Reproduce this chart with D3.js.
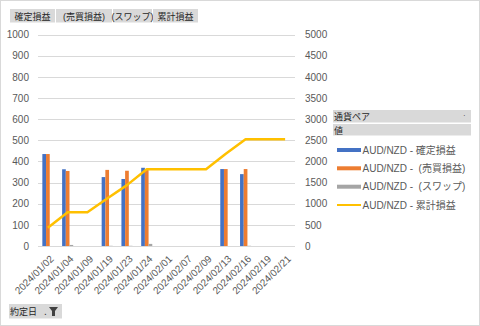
<!DOCTYPE html>
<html>
<head>
<meta charset="utf-8">
<script src="https://cdn.jsdelivr.net/npm/d3@7"></script>
<style>
  body { margin: 0; background: #fff; }
  svg { display: block; font-family: "Liberation Sans", "Noto Sans CJK JP", sans-serif; }
</style>
</head>
<body>
<svg id="chart" width="480" height="326"></svg>
<script>
// data
const dates = ['2024/01/02', '2024/01/04', '2024/01/09', '2024/01/19', '2024/01/23', '2024/01/24',
  '2024/02/01', '2024/02/07', '2024/02/09', '2024/02/13', '2024/02/16', '2024/02/19', '2024/02/21'];
const kakutei = [435, 363, 0, 326, 317, 370, 0, 0, 0, 364, 340, 0, 0];
const baibai  = [435, 355, 0, 360, 356, 363, 0, 0, 0, 364, 364, 0, 0];
const swap    = [0, 5, 0, 1, 1, 10, 0, 0, 0, 0, 1, 0, 0];
const ruikei  = [430, 800, 800, 1125, 1440, 1815, 1815, 1815, 1815, 2180, 2525, 2525, 2525];
const leftTicks = d3.range(0, 1001, 100);
const rightTicks = d3.range(0, 5001, 500);

const fieldButtons = ['確定損益', '(売買損益)', '(スワップ)', '累計損益'];
const legendNames = ['AUD/NZD - 確定損益', 'AUD/NZD -  (売買損益)', 'AUD/NZD -  (スワップ)', 'AUD/NZD - 累計損益'];
const colors = ['#4472C4', '#ED7D31', '#A5A5A5', '#FFC000'];

const svg = d3.select('#chart');
const textColor = '#595959';

// outer frame
svg.append('rect').attr('x', 0.5).attr('y', 0.5).attr('width', 479).attr('height', 325)
  .attr('fill', '#fff').attr('stroke', '#d9d9d9');

const plot = { left: 38, right: 295, top: 34.6, bottom: 246 };

const x = d3.scaleBand().domain(dates).range([plot.left, plot.right])
  .paddingInner(0.44).paddingOuter(0.22);
const xSeries = d3.scaleBand().domain([0, 1, 2]).range([0, x.bandwidth()]);
const yL = d3.scaleLinear().domain([0, 1000]).range([plot.bottom, plot.top]);
const yR = d3.scaleLinear().domain([0, 5000]).range([plot.bottom, plot.top]);

// gridlines
svg.append('g').selectAll('line').data(leftTicks).join('line')
  .attr('x1', plot.left).attr('x2', plot.right)
  .attr('y1', d => Math.round(yL(d)) + 0.5).attr('y2', d => Math.round(yL(d)) + 0.5)
  .attr('stroke', '#d9d9d9').attr('stroke-width', 1);

// left axis
const axL = svg.append('g').attr('transform', `translate(${plot.left},0)`)
  .call(d3.axisLeft(yL).tickValues(leftTicks).tickFormat(d3.format('d')).tickSize(0).tickPadding(9));
axL.select('.domain').remove();
axL.selectAll('text').attr('fill', textColor).style('font-size', '10px');

// right axis
const axR = svg.append('g').attr('transform', `translate(${plot.right},0)`)
  .call(d3.axisRight(yR).tickValues(rightTicks).tickFormat(d3.format('d')).tickSize(0).tickPadding(10));
axR.select('.domain').remove();
axR.selectAll('text').attr('fill', textColor).style('font-size', '10px');

// bars
const series = [kakutei, baibai, swap];
series.forEach((vals, si) => {
  svg.append('g').selectAll('rect').data(vals).join('rect')
    .attr('x', (d, i) => x(dates[i]) + xSeries(si))
    .attr('width', xSeries.bandwidth())
    .attr('y', d => yL(d))
    .attr('height', d => plot.bottom - yL(d))
    .attr('fill', colors[si]);
});

// cumulative line
const line = d3.line()
  .x((d, i) => x(dates[i]) + x.bandwidth() / 2)
  .y(d => yR(d));
svg.append('path').datum(ruikei)
  .attr('d', line)
  .attr('fill', 'none').attr('stroke', colors[3]).attr('stroke-width', 2.5)
  .attr('stroke-linejoin', 'round');

// x labels
svg.append('g').selectAll('text').data(dates).join('text')
  .attr('transform', d => `translate(${x(d) + x.bandwidth() / 2 + 4},${plot.bottom + 11}) rotate(-45)`)
  .attr('text-anchor', 'end').attr('dy', '0.35em')
  .attr('fill', textColor).style('font-size', '10px')
  .text(d => d);

// field buttons at top
const btnX = [10, 56, 113, 153];
const btnW = [45, 56, 39, 45];
const btns = svg.append('g');
fieldButtons.forEach((t, i) => {
  btns.append('rect').attr('x', btnX[i]).attr('y', 9).attr('width', btnW[i]).attr('height', 13.5)
    .attr('fill', '#d9d9d9');
  btns.append('text').attr('x', btnX[i] + btnW[i] / 2).attr('y', 19.5)
    .attr('text-anchor', 'middle').attr('fill', '#262626').style('font-size', '9px')
    .text(t);
});

// bottom filter button
svg.append('rect').attr('x', 9).attr('y', 304).attr('width', 53).attr('height', 14.5).attr('fill', '#d9d9d9');
svg.append('text').attr('x', 10).attr('y', 315).attr('fill', '#262626').style('font-size', '9px').text('約定日');
svg.append('text').attr('x', 44).attr('y', 315).attr('fill', '#262626').style('font-size', '10px').text('.');
svg.append('path').attr('d', 'M49,307 L58,307 L55,311 L55,316 L52,316 L52,311 Z').attr('fill', '#404040');

// legend
const lg = svg.append('g');
lg.append('rect').attr('x', 333).attr('y', 110).attr('width', 138).attr('height', 12.5).attr('fill', '#d9d9d9');
lg.append('text').attr('x', 334).attr('y', 120).attr('fill', '#262626').style('font-size', '9px').text('通貨ペア');
lg.append('text').attr('x', 463).attr('y', 118).attr('fill', '#404040').style('font-size', '8px').text('·');
lg.append('rect').attr('x', 333).attr('y', 124).attr('width', 138).attr('height', 11.5).attr('fill', '#d9d9d9');
lg.append('text').attr('x', 334).attr('y', 133.5).attr('fill', '#262626').style('font-size', '9px').text('値');

const legendY = [150, 168.3, 186.7, 205];
legendNames.forEach((name, i) => {
  if (i < 3) {
    lg.append('rect').attr('x', 337).attr('y', legendY[i] - 2).attr('width', 24).attr('height', 4).attr('fill', colors[i]);
  } else {
    lg.append('line').attr('x1', 337).attr('x2', 361).attr('y1', legendY[i]).attr('y2', legendY[i])
      .attr('stroke', colors[i]).attr('stroke-width', 2);
  }
  lg.append('text').attr('x', 362.5).attr('y', legendY[i] + 3.5)
    .attr('fill', textColor).style('font-size', '10px').style('white-space', 'pre')
    .text(name);
});
</script>
</body>
</html>
